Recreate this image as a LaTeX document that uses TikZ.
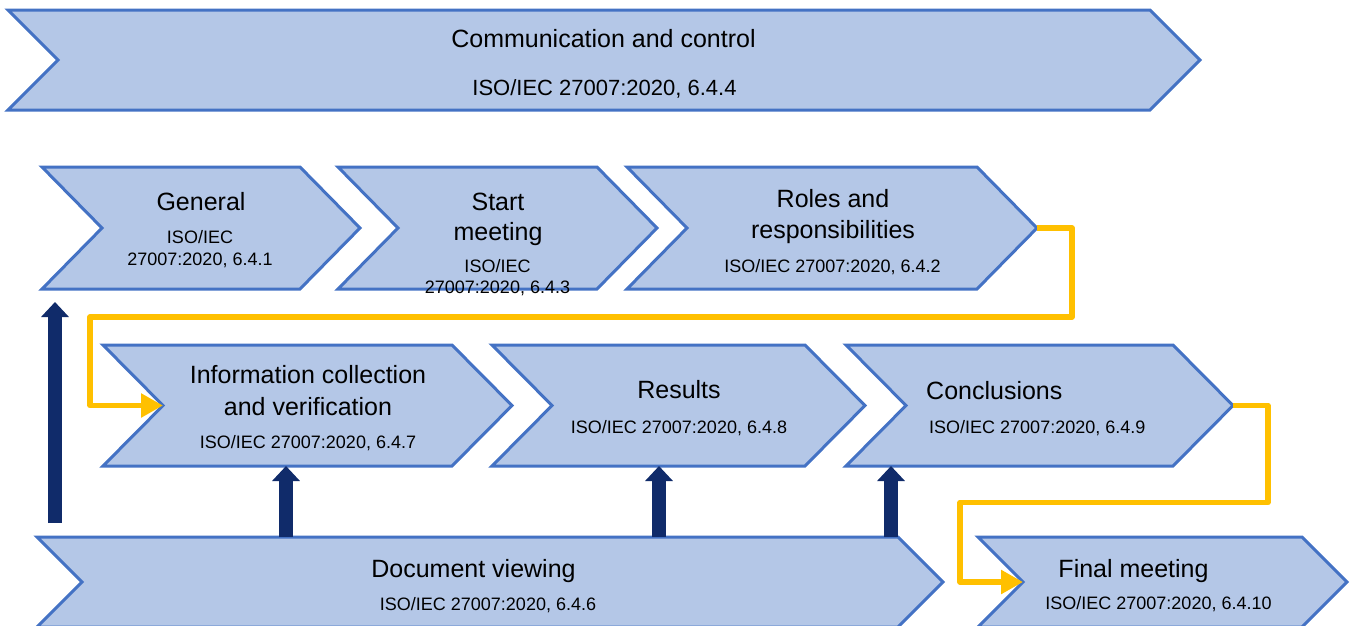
\documentclass[tikz,border=0pt]{standalone}
\usepackage{fontspec}
\setmainfont{Liberation Sans}
\usetikzlibrary{arrows.meta}

\definecolor{chevfill}{HTML}{B4C7E7}
\definecolor{chevline}{HTML}{4472C4}
\definecolor{flowgold}{HTML}{FFC000}
\definecolor{pushnavy}{HTML}{102B6A}

% Chevron step: name, left x, tip x, top y, bottom y, notch depth
\newcommand\chevronshape[6]{%
  \draw[chevron] (#2,#4) -- ({#3-#6},#4) -- (#3,{(#4+#5)/2}) -- ({#3-#6},#5)
    -- (#2,#5) -- ({#2+#6},{(#4+#5)/2}) -- cycle;
  \coordinate (#1-tip) at (#3,{(#4+#5)/2});
  \coordinate (#1-notch) at ({#2+#6},{(#4+#5)/2});
  \coordinate (#1-topline) at (#2,#4);
  \coordinate (#1-botline) at (#2,#5);
}

% multi-line labels are placed by the baseline of their last line
\tikzset{
  chevron/.style={draw=chevline, fill=chevfill, line width=3pt, line join=miter},
  mainlabel/.style={font=\fontsize{25}{31}\selectfont, align=center, inner sep=0pt, anchor=base},
  sublabel/.style={font=\fontsize{18}{21.5}\selectfont, align=center, inner sep=0pt, anchor=base},
  flow/.style={draw=flowgold, line width=5.5pt, line join=round,
    -{Triangle[length=22pt,width=23pt]}},
  pusharrow/.style={draw=pushnavy, line width=14pt,
    -{Triangle[length=15pt,width=27pt]}},
}

\begin{document}
\begin{tikzpicture}[x=1pt,y=-1pt]
\path[use as bounding box] (0,0) rectangle (1351,625);
\clip (0,0) rectangle (1351,625);

% process steps
\chevronshape{comm}{8}{1200}{10}{110}{50}
\chevronshape{general}{42}{360}{167}{289}{60}
\chevronshape{start}{338}{657}{167}{289}{60}
\chevronshape{roles}{627}{1037}{167}{289}{60}
\chevronshape{info}{103}{512}{345}{466}{60}
\chevronshape{results}{492}{865}{345}{466}{60}
\chevronshape{concl}{846}{1233}{345}{466}{60}
\chevronshape{docview}{37}{943}{537}{627}{45}
\chevronshape{final}{978}{1347}{537}{627}{45}

% labels
\node[mainlabel] (comm-t) at (603.5,47) {Communication and control};
\node[sublabel, font=\fontsize{22}{26}\selectfont] (comm-s) at (604.5,95) {ISO/IEC 27007:2020, 6.4.4};

\node[mainlabel] (general-t) at (201,210) {General};
\node[sublabel, font=\fontsize{18}{22}\selectfont] (general-s) at (200,265) {ISO/IEC\\27007:2020, 6.4.1};

\node[mainlabel, font=\fontsize{25}{30}\selectfont] (start-t) at (498,240) {Start\\meeting};
\node[sublabel, font=\fontsize{18}{21}\selectfont] (start-s) at (497.5,293) {ISO/IEC\\27007:2020, 6.4.3};

\node[mainlabel] (roles-t) at (833,238) {Roles and\\responsibilities};
\node[sublabel] (roles-s) at (832.5,272) {ISO/IEC 27007:2020, 6.4.2};

\node[mainlabel, font=\fontsize{25}{32}\selectfont] (info-t) at (308,415) {Information collection\\and verification};
\node[sublabel] (info-s) at (308,448) {ISO/IEC 27007:2020, 6.4.7};

\node[mainlabel] (results-t) at (679,398) {Results};
\node[sublabel] (results-s) at (679,433) {ISO/IEC 27007:2020, 6.4.8};

\node[mainlabel, anchor=base west] (concl-t) at (926,399) {Conclusions};
\node[sublabel, anchor=base west] (concl-s) at (929,433) {ISO/IEC 27007:2020, 6.4.9};

\node[mainlabel] (docview-t) at (473.5,577) {Document viewing};
\node[sublabel] (docview-s) at (488,610) {ISO/IEC 27007:2020, 6.4.6};

\node[mainlabel] (final-t) at (1133.5,577) {Final meeting};
\node[sublabel] (final-s) at (1158.5,609) {ISO/IEC 27007:2020, 6.4.10};

% sequence connectors
\draw[flow] (roles-tip) -- ++(35,0) -- ++(0,89) -| ([xshift=-73pt]info-notch) -- (info-notch);
\draw[flow] (concl-tip) -- ++(35,0) -- ++(0,97) -| ([xshift=-63pt]final-notch) -- (final-notch);

% document viewing feeds the steps above
\draw[pusharrow, shorten <=14pt, shorten >=13pt] (55,0 |- docview-topline) -- (55,0 |- general-botline);
\draw[pusharrow] (286,0 |- docview-topline) -- (286,0 |- info-botline);
\draw[pusharrow] (659,0 |- docview-topline) -- (659,0 |- results-botline);
\draw[pusharrow] (891,0 |- docview-topline) -- (891,0 |- concl-botline);
\end{tikzpicture}
\end{document}
